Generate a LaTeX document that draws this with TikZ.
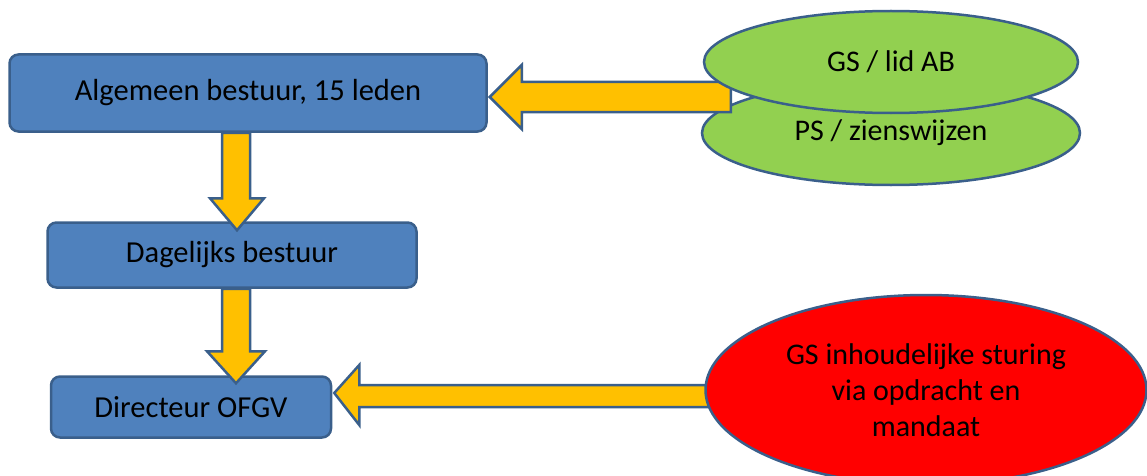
\documentclass[tikz,border=0pt]{standalone}
\usepackage{fontspec}
\setmainfont{Carlito}
\usetikzlibrary{shapes.geometric,calc}
\definecolor{boxblue}{HTML}{4F81BD}
\definecolor{edgeblue}{HTML}{3A5F8B}
\definecolor{arrowyellow}{HTML}{FFC000}
\definecolor{ellgreen}{HTML}{92D050}
\definecolor{ellred}{HTML}{FF0000}
\begin{document}
\begin{tikzpicture}[x=1pt,y=1pt,
  bluebox/.style={draw=edgeblue,fill=boxblue,line width=2.5pt,rounded corners=9pt,
    inner sep=0pt,font=\fontsize{30.5}{34}\selectfont},
  ovalnode/.style={ellipse,draw=edgeblue,line width=2.5pt,inner sep=0pt,
    font=\fontsize{30}{36}\selectfont,align=center},
  barrow/.style={draw=edgeblue,fill=arrowyellow,line width=2.5pt,line join=miter}]
\useasboundingbox (0,0) rectangle (1147,475);
\clip (0,0) rectangle (1147,475);
% boxes
\node[bluebox,minimum width=477pt,minimum height=77pt] (ab) at (248,382) {Algemeen bestuur, 15 leden};
\node[bluebox,minimum width=369pt,minimum height=65pt] (db) at (232,220) {Dagelijks bestuur};
\node[bluebox,minimum width=280pt,minimum height=61pt] (dir) at (191,68) {Directeur OFGV};
% lower green ellipse
\node[ovalnode,fill=ellgreen,minimum width=378pt,minimum height=104pt] (ps) at (891,342) {};
\node at (891,342) {\fontsize{30}{34}\selectfont PS / zienswijzen};
% down arrow 1
\draw[barrow] let \p1=(ab.south), \p2=(db.north) in
  (222pt,\y1) -- (250pt,\y1) -- (250pt,{\y2+23pt}) -- (264pt,{\y2+23pt})
  -- (237pt,{\y2-9pt}) -- (210pt,{\y2+23pt}) -- (222pt,{\y2+23pt}) -- cycle;
% down arrow 2
\draw[barrow] let \p1=(db.south), \p2=(dir.north) in
  (222pt,\y1) -- (250pt,\y1) -- (250pt,{\y2+24pt}) -- (265pt,{\y2+24pt})
  -- (236pt,{\y2-8pt}) -- (207pt,{\y2+24pt}) -- (222pt,{\y2+24pt}) -- cycle;
% left arrow 1
\draw[barrow] let \p1=(ab.east), \p2=(ps.west) in
  ({\x1+2pt},378pt) -- ({\x1+34pt},410pt) -- ({\x1+34pt},393pt) -- ({\x2+30pt},393pt)
  -- ({\x2+30pt},363pt) -- ({\x1+34pt},363pt) -- ({\x1+34pt},346pt) -- cycle;
% upper green ellipse
\node[ovalnode,fill=ellgreen,minimum width=374pt,minimum height=102pt] (gs) at (891,413) {GS / lid AB};
% left arrow 2
\draw[barrow] let \p1=(dir.east), \p2=(0,0) in
  ({\x1+2pt},82pt) -- ({\x1+27pt},110pt) -- ({\x1+27pt},90pt) -- (712pt,90pt)
  -- (712pt,68pt) -- ({\x1+27pt},68pt) -- ({\x1+27pt},50pt) -- cycle;
% red ellipse
\node[ovalnode,fill=ellred,minimum width=441pt,minimum height=190pt] (red) at (926,85)
  {GS inhoudelijke sturing\\via opdracht en\\mandaat};
\end{tikzpicture}
\end{document}
